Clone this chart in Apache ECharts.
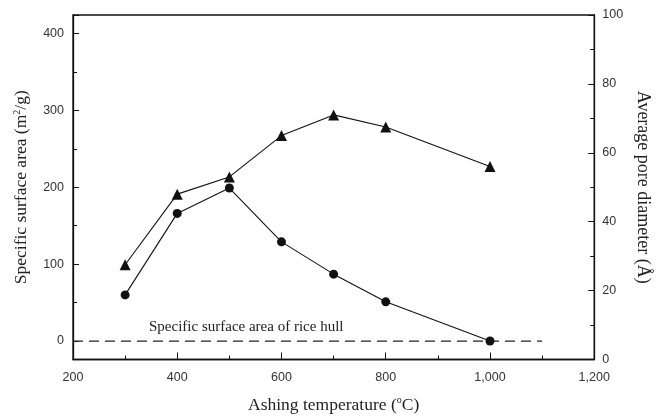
<!DOCTYPE html>
<html lang="en">
<head>
    <meta charset="UTF-8">
    <title>Ashing temperature</title>
    <script src="https://cdn.jsdelivr.net/npm/echarts/dist/echarts.min.js"></script>
    <style>
        html, body {
            width: 100%;
            height: 100%;
            margin: 0;
            padding: 0;
            background: #fff;
            overflow: hidden;
        }
        #chart {
            width: 660px;
            height: 419px;
        }
    </style>
</head>
<body>
<div id="chart"></div>
<script>
    // Ashing temperature (C)
    var temps = [300, 400, 500, 600, 700, 800, 1000];
    // Specific surface area (m2/g), left axis, circles
    var surfaceArea = [60, 166, 199, 129, 87, 51, 0];
    // Average pore diameter (A), right axis, triangles
    var poreDiameter = [27.5, 48, 53, 65, 71, 67.5, 56];
    // rice hull reference line (surface area) and its x span
    var riceHullSpan = [200, 1100];
    var riceHullValue = 0;

    var serif = '"Liberation Serif", "DejaVu Serif", serif';
    var sans = '"Liberation Sans", Arial, sans-serif';

    function pairs(xs, ys) {
        return xs.map(function (x, i) { return [x, ys[i]]; });
    }

    var chart = echarts.init(document.getElementById('chart'));

    var tickLabel = { color: '#333', fontFamily: sans, fontSize: 12.5 };
    var supRich = {
        t: { fontFamily: serif, fontSize: 17.5, color: '#222' },
        sup: { fontFamily: serif, fontSize: 10, color: '#222', padding: [0, 0, 9, 0] }
    };

    var option = {
        animation: false,
        backgroundColor: '#fff',
        grid: {
            left: 73, right: 59, top: 15, bottom: 57,
            show: true, borderColor: '#111', borderWidth: 1.3
        },
        xAxis: {
            type: 'value',
            min: 200, max: 1200, interval: 200,
            name: 'Ashing temperature ({sup|o}C)',
            nameLocation: 'middle',
            nameGap: 36,
            nameTextStyle: { fontFamily: serif, fontSize: 17.5, color: '#222', rich: supRich },
            axisLine: { show: true, onZero: false, lineStyle: { color: '#111', width: 1.3 } },
            axisTick: { show: true, inside: true, length: 7, lineStyle: { color: '#111' } },
            minorTick: { show: true, splitNumber: 2, length: 4, lineStyle: { color: '#111' } },
            splitLine: { show: false },
            axisLabel: Object.assign({ margin: 12, formatter: function (v) {
                return v.toLocaleString('en-US');
            } }, tickLabel)
        },
        yAxis: [
            {
                type: 'value',
                min: -24, max: 424, splitNumber: 5,
                name: 'Specific surface area (m{sup|2}/g)',
                nameLocation: 'middle',
                nameRotate: 90,
                nameGap: 42,
                nameTextStyle: { fontFamily: serif, fontSize: 17.5, color: '#222', rich: supRich },
                axisLine: { show: true, onZero: false, lineStyle: { color: '#111', width: 1.3 } },
                axisTick: { show: true, inside: true, length: 6, lineStyle: { color: '#111' } },
                minorTick: { show: true, splitNumber: 2, length: 4, lineStyle: { color: '#111' } },
                splitLine: { show: false },
                axisLabel: Object.assign({ margin: 9, showMinLabel: false, showMaxLabel: false }, tickLabel)
            },
            {
                type: 'value',
                min: 0, max: 100, interval: 20,
                position: 'right',
                name: 'Average pore diameter (Å)',
                nameLocation: 'middle',
                nameRotate: -90,
                nameGap: 35,
                nameTextStyle: { fontFamily: serif, fontSize: 18, color: '#222' },
                axisLine: { show: true, onZero: false, lineStyle: { color: '#111', width: 1.3 } },
                axisTick: { show: true, inside: true, length: 6, lineStyle: { color: '#111' } },
                minorTick: { show: true, splitNumber: 2, length: 4, lineStyle: { color: '#111' } },
                splitLine: { show: false },
                axisLabel: Object.assign({ margin: 8 }, tickLabel)
            }
        ],
        graphic: [
            {
                type: 'text',
                left: 149,
                top: 320,
                style: {
                    text: 'Specific surface area of rice hull',
                    fontFamily: serif,
                    fontSize: 15,
                    fill: '#222'
                }
            }
        ],
        series: [
            {
                name: 'Rice hull',
                type: 'line',
                yAxisIndex: 0,
                data: pairs(riceHullSpan, [riceHullValue, riceHullValue]),
                symbol: 'none',
                lineStyle: { color: '#222', width: 1.2, type: [10, 6] },
                z: 1
            },
            {
                name: 'Specific surface area',
                type: 'line',
                yAxisIndex: 0,
                data: pairs(temps, surfaceArea),
                symbol: 'circle',
                symbolSize: 9,
                itemStyle: { color: '#111' },
                lineStyle: { color: '#111', width: 1.1 },
                z: 3
            },
            {
                name: 'Average pore diameter',
                type: 'line',
                yAxisIndex: 1,
                data: pairs(temps, poreDiameter),
                symbol: 'triangle',
                symbolSize: 11,
                itemStyle: { color: '#111' },
                lineStyle: { color: '#111', width: 1.1 },
                z: 3
            }
        ]
    };

    chart.setOption(option);
</script>
</body>
</html>
